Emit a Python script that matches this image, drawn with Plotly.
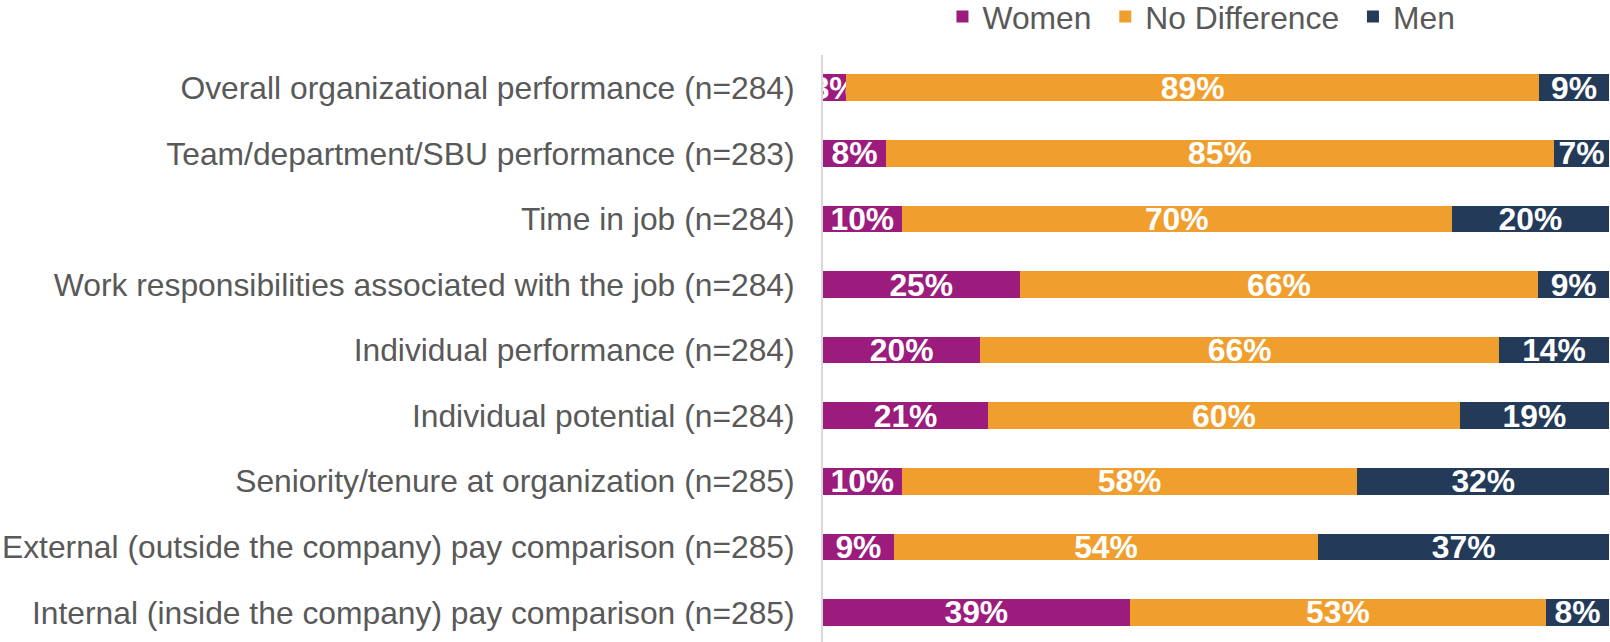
import plotly.graph_objects as go

categories = [
    "Overall organizational performance (n=284)",
    "Team/department/SBU performance (n=283)",
    "Time in job (n=284)",
    "Work responsibilities associated with the job (n=284)",
    "Individual performance (n=284)",
    "Individual potential (n=284)",
    "Seniority/tenure at organization (n=285)",
    "External (outside the company) pay comparison (n=285)",
    "Internal (inside the company) pay comparison (n=285)",
]
women = [3, 8, 10, 25, 20, 21, 10, 9, 39]
no_difference = [89, 85, 70, 66, 66, 60, 58, 54, 53]
men = [9, 7, 20, 9, 14, 19, 32, 37, 8]

series_names = ["Women\u00a0", "No Difference\u00a0", "Men"]
series = [
    (series_names[0], women, "#9B1C7D"),
    (series_names[1], no_difference, "#F09F2F"),
    (series_names[2], men, "#243A59"),
]

FONT = "Arial, 'Liberation Sans', sans-serif"
FS = 31.8

fig = go.Figure()
for name, vals, color in series:
    fig.add_trace(go.Bar(
        name=name,
        y=categories,
        x=vals,
        orientation="h",
        marker=dict(color=color, line=dict(width=0)),
        text=[f"{v}%" for v in vals],
        textposition="inside",
        insidetextanchor="middle",
        textangle=0,
        insidetextfont=dict(family=FONT, size=FS, color="white", weight="bold"),
        cliponaxis=True,
        hoverinfo="skip",
    ))

fig.update_layout(
    width=1610,
    height=642,
    barmode="stack",
    barnorm="percent",
    bargap=0.593,
    plot_bgcolor="white",
    paper_bgcolor="white",
    margin=dict(l=823, r=1, t=55, b=0, autoexpand=False),
    uniformtext=dict(minsize=FS, mode="show"),
    font=dict(family=FONT, size=FS, color="#595959"),
    legend=dict(
        orientation="h",
        x=0.152,
        xanchor="left",
        y=1.065,
        yanchor="middle",
        font=dict(family=FONT, size=FS, color="#595959"),
        bgcolor="rgba(0,0,0,0)",
        traceorder="normal",
    ),
    showlegend=True,
)
fig.update_xaxes(
    range=[0, 100],
    showgrid=False,
    zeroline=False,
    showticklabels=False,
    showline=False,
    fixedrange=True,
)
fig.update_yaxes(
    categoryorder="array",
    categoryarray=categories,
    range=[8.45, -0.5],
    showgrid=False,
    zeroline=False,
    showline=True,
    linecolor="#D9D9D9",
    linewidth=2,
    ticks="",
    ticklabelstandoff=20,
    tickfont=dict(family=FONT, size=FS, color="#595959"),
    automargin=False,
    fixedrange=True,
)

fig.write_html(
    "out.html",
    config={"displayModeBar": False},
    post_script="document.body.style.margin='0';document.body.style.overflow='hidden';",
)
